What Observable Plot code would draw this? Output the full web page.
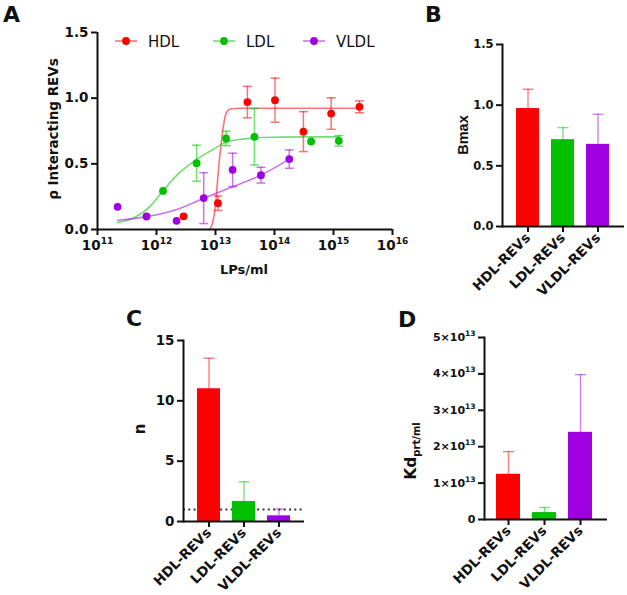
<!DOCTYPE html>
<html><head><meta charset="utf-8">
<script src="https://cdn.jsdelivr.net/npm/d3@7"></script>
<script src="https://cdn.jsdelivr.net/npm/@observablehq/plot@0.6"></script>
<style>
body{margin:0;background:#fff;}
#root{position:relative;width:627px;height:595px;overflow:hidden;background:#fff;}
.panel{position:absolute;}
.panel svg{overflow:visible;}
#overlay{position:absolute;left:0;top:0;pointer-events:none;}
</style></head><body><div id="root"></div>
<script>
// ---------- data ----------
const series = ["HDL", "LDL", "VLDL"];
const seriesColors = ["#ff0000", "#00c000", "#a000e0"];

// Panel A: measured points (LPs/ml, fraction of interacting REVs, SD)
const hdlConc = [2.88e12, 1.10e13, 3.47e13, 1.02e14, 3.09e14, 9.12e14, 2.75e15];
const hdlVal  = [0.10, 0.20, 0.97, 0.985, 0.745, 0.883, 0.934];
const hdlErr  = [0, 0.055, 0.12, 0.168, 0.152, 0.12, 0.045];

const ldlConc = [1.29e12, 4.79e12, 1.51e13, 4.57e13, 4.17e14, 1.23e15];
const ldlVal  = [0.294, 0.505, 0.693, 0.706, 0.67, 0.675];
const ldlErr  = [0, 0.137, 0.055, 0.215, 0, 0.04];

const vldlConc = [2.19e11, 6.76e11, 2.19e12, 6.31e12, 1.95e13, 5.89e13, 1.78e14];
const vldlVal  = [0.173, 0.099, 0.066, 0.239, 0.454, 0.414, 0.536];
const vldlErr  = [0, 0, 0, 0.194, 0.127, 0.06, 0.07];

// Panel A: fitted curves
const hdlFitConc = [7.94e12, 8.91e12, 1.00e13, 1.12e13, 1.26e13, 1.41e13, 1.58e13, 1.86e13, 2.51e13, 2.75e15];
const hdlFitVal  = [0, 0.05, 0.19, 0.45, 0.67, 0.83, 0.90, 0.92, 0.923, 0.923];
const ldlFitConc = [2.19e11, 4.17e11, 7.94e11, 1.26e12, 2.29e12, 4.68e12, 8.32e12, 1.51e13, 3.16e13, 6.31e13, 3.16e14, 1.23e15];
const ldlFitVal  = [0.053, 0.09, 0.18, 0.29, 0.42, 0.53, 0.60, 0.665, 0.69, 0.70, 0.705, 0.705];
const vldlFitConc = [2.19e11, 7.08e11, 2.29e12, 6.46e12, 1.95e13, 5.89e13, 1.78e14];
const vldlFitVal  = [0.07, 0.10, 0.155, 0.239, 0.325, 0.414, 0.536];

const xTicksA = [1e11, 1e12, 1e13, 1e14, 1e15, 1e16];
const yTicksA = [0, 0.5, 1.0, 1.5];

// Panels B, C, D
const categories = ["HDL-REVs", "LDL-REVs", "VLDL-REVs"];
const bmaxVal = [0.972, 0.716, 0.677];
const bmaxErr = [0.159, 0.099, 0.248];
const yTicksB = [0, 0.5, 1.0, 1.5];

const hillVal = [11.0, 1.66, 0.47];
const hillErr = [2.53, 1.63, 0.55];
const hillRef = [1];
const yTicksC = [0, 5, 10, 15];

const kdVal = [1.243e13, 0.19e13, 2.395e13];
const kdErr = [0.622e13, 0.14e13, 1.585e13];
const yTicksD = [0, 1e13, 2e13, 3e13, 4e13, 5e13];

// ---------- helpers ----------
const capSymbol = {draw(ctx, size) { const r = Math.sqrt(size / Math.PI); ctx.moveTo(-r, 0); ctx.lineTo(r, 0); }};
const ns = "http://www.w3.org/2000/svg";
const root = document.getElementById("root");
function place(svg, left, top) {
  const d = document.createElement("div");
  d.className = "panel"; d.style.left = left + "px"; d.style.top = top + "px";
  d.appendChild(svg); root.appendChild(d);
}
// turn "base^exp" tick labels into base + superscript tspan
function superscriptTicks(svg, supSize, shift) {
  svg.querySelectorAll("text").forEach(t => {
    const s = t.textContent;
    if (!s.includes("^")) return;
    const [base, exp] = s.split("^");
    t.textContent = "";
    const a = document.createElementNS(ns, "tspan"); a.textContent = base; t.appendChild(a);
    const b = document.createElementNS(ns, "tspan"); b.textContent = exp;
    b.setAttribute("font-size", supSize); b.setAttribute("dy", -shift); t.appendChild(b);
  });
}

// ---------- Panel A ----------
const concs = [hdlConc, ldlConc, vldlConc], vals = [hdlVal, ldlVal, vldlVal], errs = [hdlErr, ldlErr, vldlErr];
const fitC = [hdlFitConc, ldlFitConc, vldlFitConc], fitV = [hdlFitVal, ldlFitVal, vldlFitVal];
const ptsA = series.flatMap((s, i) => concs[i].map((c, j) => ({s, x: c, y: vals[i][j], e: errs[i][j]})));
const errA = ptsA.filter(d => d.e > 0);
const fitA = series.flatMap((s, i) => fitC[i].map((c, j) => ({s, x: c, y: fitV[i][j]})));

const plotA = Plot.plot({
  width: 420, height: 300,
  marginLeft: 97, marginRight: 28, marginTop: 32, marginBottom: 71,
  style: {fontFamily: "DejaVu Sans", fontWeight: "bold", fontSize: "13px", color: "#111", background: "transparent"},
  x: {type: "log", domain: [1e11, 1e16]},
  y: {domain: [0, 1.5]},
  color: {domain: series, range: seriesColors},
  marks: [
    Plot.line(fitA, {x: "x", y: "y", z: "s", stroke: "s", curve: "monotone-x", strokeWidth: 1.6, strokeOpacity: 0.55}),
    Plot.ruleX(errA, {x: "x", y1: d => d.y - d.e, y2: d => d.y + d.e, stroke: "s", strokeWidth: 1.5, strokeOpacity: 0.55}),
    Plot.dot(errA, {x: "x", y: d => d.y - d.e, symbol: capSymbol, r: 4.5, stroke: "s", strokeWidth: 1.5, strokeOpacity: 0.55}),
    Plot.dot(errA, {x: "x", y: d => d.y + d.e, symbol: capSymbol, r: 4.5, stroke: "s", strokeWidth: 1.5, strokeOpacity: 0.55}),
    Plot.dot(ptsA, {x: "x", y: "y", fill: "s", r: 3.9}),
    Plot.ruleY([0], {strokeWidth: 2, stroke: "#111"}),
    Plot.ruleX([1e11], {strokeWidth: 2, stroke: "#111"}),
    Plot.axisY({ticks: yTicksA, tickFormat: d => d.toFixed(1), tickSize: 6, tickPadding: 3, strokeWidth: 2, label: null, fontSize: 13.5}),
    Plot.axisX({ticks: xTicksA, tickFormat: d => "10^" + Math.round(Math.log10(d)), tickSize: 6, tickPadding: 5, strokeWidth: 2, label: null, fontSize: 13.5})
  ]
});
superscriptTicks(plotA, 9, 6);
place(plotA, 0, 0);

// ---------- bar panels ----------
function barPanel({values, errors, ticks, tickFormat, width, height, margins, padOuter, align, yFont, ref}) {
  const data = categories.map((c, i) => ({c, v: values[i], e: errors[i]}));
  const marks = [];
  if (ref) marks.push(Plot.ruleY(ref, {stroke: "#333", strokeWidth: 2, strokeDasharray: "2,3.3"}));
  marks.push(
    Plot.ruleX(data, {x: "c", y1: "v", y2: d => d.v + d.e, stroke: "c", strokeWidth: 1.4, strokeOpacity: 0.5}),
    Plot.dot(data, {x: "c", y: d => d.v + d.e, symbol: capSymbol, r: 5.5, stroke: "c", strokeWidth: 1.4, strokeOpacity: 0.5}),
    Plot.barY(data, {x: "c", y: "v", fill: "c"}),
    Plot.ruleY([0], {strokeWidth: 2, stroke: "#111"}),
    Plot.frame({anchor: "left", strokeWidth: 2, stroke: "#111"}),
    Plot.axisY({ticks, tickFormat, tickSize: 6, tickPadding: 3, strokeWidth: 2, label: null, fontSize: yFont}),
    Plot.axisX({tickRotate: -45, tickSize: 6, tickPadding: 3, strokeWidth: 2, label: null, fontSize: 13.5})
  );
  return Plot.plot({
    width, height,
    marginLeft: margins[0], marginRight: margins[1], marginTop: margins[2], marginBottom: margins[3],
    style: {fontFamily: "DejaVu Sans", fontWeight: "bold", fontSize: "12px", color: "#111", background: "transparent"},
    x: {domain: categories, paddingInner: 0.34, paddingOuter: padOuter, align},
    y: {domain: [ticks[0], ticks[ticks.length - 1]]},
    color: {domain: categories, range: seriesColors},
    marks
  });
}

place(barPanel({values: bmaxVal, errors: bmaxErr, ticks: yTicksB, tickFormat: d => d.toFixed(1),
  width: 207, height: 300, margins: [82, 3, 44, 74], padOuter: 0.37, align: 0.5, yFont: 11.5}), 420, 0);

place(barPanel({values: hillVal, errors: hillErr, ticks: yTicksC, tickFormat: d => String(d),
  width: 260, height: 295, margins: [83, 56, 40, 74], padOuter: 0.37, align: 0.5, yFont: 13.5, ref: hillRef}), 100, 300);

const plotD = barPanel({values: kdVal, errors: kdErr, ticks: yTicksD, tickFormat: d => d === 0 ? "0" : `${d / 1e13}×10^13`,
  width: 247, height: 295, margins: [104, 20, 37, 76], padOuter: 0.34, align: 0.45, yFont: 11});
superscriptTicks(plotD, 7.5, 5);
place(plotD, 380, 300);

// ---------- overlay: panel letters, axis titles, legend ----------
const ov = document.createElementNS(ns, "svg");
ov.setAttribute("id", "overlay"); ov.setAttribute("width", 627); ov.setAttribute("height", 595);
root.appendChild(ov);
function txt(str, attrs) {
  const t = document.createElementNS(ns, "text");
  for (const k in attrs) t.setAttribute(k, attrs[k]);
  t.textContent = str; ov.appendChild(t); return t;
}
const bold = {"font-family": "DejaVu Sans", "font-weight": "bold", fill: "#111"};
const boldL = {"font-family": "Liberation Sans", "font-weight": "bold", fill: "#111"};
[["A", 3, 22], ["B", 425, 22], ["C", 126, 326], ["D", 398, 327]].forEach(([l, x, y]) =>
  txt(l, {...bold, x, y, "font-size": 22}));

txt("LPs/ml", {...bold, x: 244, y: 274, "font-size": 13, "text-anchor": "middle"});
txt("ρ Interacting REVs", {...bold, "font-size": 13.5, "text-anchor": "middle", transform: "translate(58,129) rotate(-90)"});
txt("Bmax", {...boldL, "font-size": 14.5, "text-anchor": "middle", transform: "translate(468,135) rotate(-90)"});
txt("n", {...bold, "font-size": 15, "text-anchor": "middle", transform: "translate(145,429) rotate(-90)"});
const kdT = txt("", {...bold, "font-size": 15.5, "text-anchor": "middle", transform: "translate(416,451) rotate(-90)"});
const t1 = document.createElementNS(ns, "tspan"); t1.textContent = "Kd"; kdT.appendChild(t1);
const t2 = document.createElementNS(ns, "tspan"); t2.textContent = "prt/ml"; t2.setAttribute("font-size", 10); t2.setAttribute("dy", 4); kdT.appendChild(t2);

// legend for panel A
const legendX = [115, 213, 303];
series.forEach((s, i) => {
  const x0 = legendX[i];
  const ln = document.createElementNS(ns, "line");
  ln.setAttribute("x1", x0); ln.setAttribute("x2", x0 + 22); ln.setAttribute("y1", 41); ln.setAttribute("y2", 41);
  ln.setAttribute("stroke", seriesColors[i]); ln.setAttribute("stroke-width", 1.6); ln.setAttribute("stroke-opacity", 0.55);
  ov.appendChild(ln);
  const c = document.createElementNS(ns, "circle");
  c.setAttribute("cx", x0 + 11); c.setAttribute("cy", 41); c.setAttribute("r", 3.9); c.setAttribute("fill", seriesColors[i]);
  ov.appendChild(c);
  txt(s, {x: x0 + 33, y: 46.5, "font-family": "DejaVu Sans", "font-size": 15, fill: "#111"});
});
</script></body></html>
